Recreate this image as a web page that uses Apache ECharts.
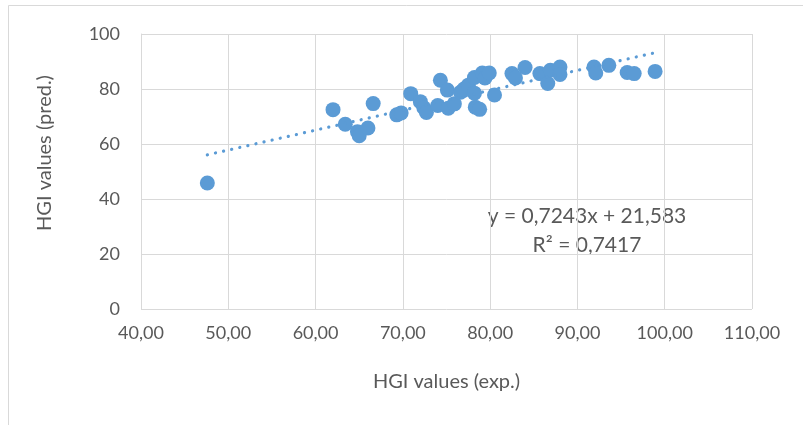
<!DOCTYPE html>
<html>
<head>
<meta charset="utf-8">
<script src="https://cdn.jsdelivr.net/npm/echarts@6/dist/echarts.min.js"></script>
<style>
  html, body { margin: 0; padding: 0; background: #fff; }
  #main { width: 803px; height: 425px; }
</style>
</head>
<body>
<div id="main"></div>
<script>
// HGI measured (exp.) vs predicted (pred.)
var hgiExp = [47.6, 62.0, 63.4, 64.8, 65.0, 66.0, 66.6, 69.3, 69.8, 70.9,
    72.0, 72.4, 72.7, 74.0, 74.3, 75.1, 75.2, 75.9, 76.6, 77.0,
    77.5, 78.2, 78.2, 78.3, 78.8, 79.1, 79.4, 79.9, 80.5, 82.5,
    82.9, 84.0, 85.7, 86.6, 86.9, 88.0, 88.0, 91.9, 92.1, 93.6,
    95.7, 96.5, 98.9];
var hgiPred = [45.8, 72.5, 67.2, 64.5, 63.0, 65.8, 74.7, 70.6, 71.3, 78.3,
    75.4, 73.2, 71.5, 74.0, 83.2, 79.6, 73.0, 74.6, 78.8, 80.0,
    81.4, 84.2, 78.5, 73.4, 72.6, 85.8, 84.0, 85.8, 77.8, 85.6,
    84.0, 87.8, 85.6, 82.0, 86.8, 88.0, 85.3, 88.0, 85.8, 88.6,
    86.0, 85.6, 86.4];
var xTicks = [40, 50, 60, 70, 80, 90, 100, 110];
var yTicks = [0, 20, 40, 60, 80, 100];
var trendSlope = 0.7243;
var trendIntercept = 21.583;
var trendText = ["y = 0,7243x + 21,583", "R² = 0,7417"];

var points = [];
for (var i = 0; i < hgiExp.length; ++i) {
    points.push([hgiExp[i], hgiPred[i]]);
}
var xMin = Math.min.apply(null, hgiExp);
var xMax = Math.max.apply(null, hgiExp);
var trendLine = [
    [xMin, trendSlope * xMin + trendIntercept],
    [xMax, trendSlope * xMax + trendIntercept]
];

var FONT = "Lato, 'Open Sans', sans-serif";
var TEXT = "#595959";
var GRID = "#D9D9D9";
var BLUE = "#5B9BD5";

var chart = echarts.init(document.getElementById("main"), null, { renderer: "canvas" });
chart.setOption({
    animation: false,
    backgroundColor: "#fff",
    grid: { left: 141, right: 51, top: 34, bottom: 116, containLabel: false },
    graphic: [
        {
            type: "polyline",
            shape: { points: [[8.5, 430], [8.5, 5.5], [810, 5.5]] },
            style: { stroke: GRID, lineWidth: 1, fill: null },
            silent: true
        },
        {
            type: "text",
            style: {
                x: 587, y: 202,
                text: trendText.join("\n"),
                align: "center",
                verticalAlign: "top",
                fill: TEXT,
                font: "21px " + FONT,
                lineHeight: 29
            },
            silent: true
        },
        {
            type: "text",
            x: 45, y: 153,
            rotation: Math.PI / 2,
            style: {
                text: "HGI values (pred.)",
                align: "center",
                verticalAlign: "middle",
                fill: TEXT,
                font: "20px " + FONT
            },
            silent: true
        }
    ],
    xAxis: {
        type: "value",
        min: xTicks[0],
        max: xTicks[xTicks.length - 1],
        interval: 10,
        name: "HGI values (exp.)",
        nameLocation: "middle",
        nameGap: 63,
        nameTextStyle: { color: TEXT, fontSize: 20, fontFamily: FONT },
        axisLine: { show: false },
        axisTick: { show: false },
        axisLabel: {
            color: TEXT, fontSize: 18, fontFamily: FONT, margin: 15,
            formatter: function (v) { return v.toFixed(2).replace(".", ","); }
        },
        splitLine: { show: true, lineStyle: { color: GRID, width: 1 } }
    },
    yAxis: {
        type: "value",
        min: yTicks[0],
        max: yTicks[yTicks.length - 1],
        interval: 20,
        axisLine: { show: true, lineStyle: { color: GRID, width: 1 } },
        axisTick: { show: false },
        axisLabel: { color: TEXT, fontSize: 18, fontFamily: FONT, margin: 21 },
        splitLine: { show: true, lineStyle: { color: GRID, width: 1 } }
    },
    series: [
        {
            name: "HGI",
            type: "scatter",
            symbol: "circle",
            symbolSize: 15,
            itemStyle: { color: BLUE, opacity: 1 },
            data: points,
            z: 3
        },
        {
            name: "Linear trend",
            type: "line",
            data: trendLine,
            symbol: "none",
            lineStyle: { color: BLUE, width: 3.2, type: [0.1, 8.2], cap: "round" },
            z: 4
        }
    ]
});
</script>
</body>
</html>
